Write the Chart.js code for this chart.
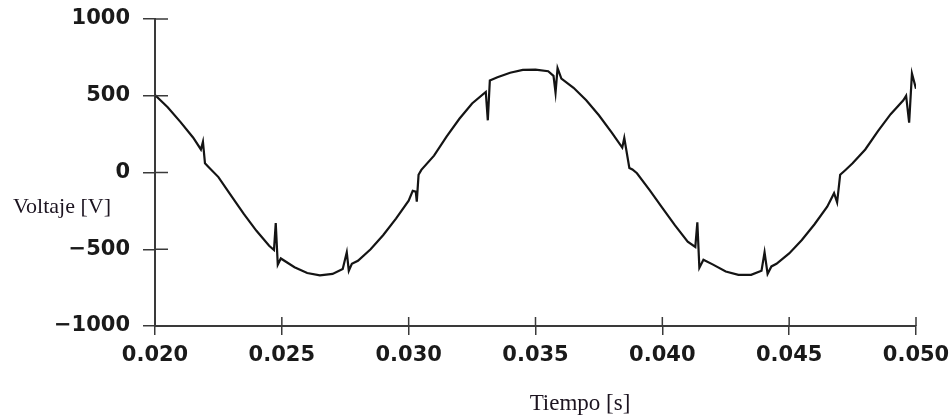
<!DOCTYPE html>
<html>
<head>
<meta charset="utf-8">
<script src="https://cdn.jsdelivr.net/npm/chart.js@4.4.1/dist/chart.umd.min.js"></script>
<style>
  html, body { margin: 0; padding: 0; background: #fff; }
  #wrap { width: 951px; height: 419px; }
</style>
</head>
<body>
<div id="wrap"><canvas id="chart" width="951" height="419"></canvas></div>
<script>
// waveform: time [s] and voltage [V]
const times = [
  0.0200, 0.0205, 0.0210, 0.0215, 0.02181, 0.02189, 0.02197, 0.0221,
  0.0225, 0.0230, 0.0235, 0.0240, 0.0245, 0.02469, 0.02476, 0.02484, 0.02496,
  0.0255, 0.0260, 0.0265, 0.0270, 0.0274, 0.02756, 0.02764, 0.02776,
  0.0280, 0.0285, 0.0290, 0.0295, 0.0300, 0.03016, 0.03028, 0.03032, 0.03039,
  0.0305, 0.0310, 0.0315, 0.0320, 0.0325, 0.03304, 0.03312, 0.03320,
  0.0335, 0.0340, 0.0345, 0.0350, 0.0355, 0.03571, 0.03579, 0.03587, 0.03602,
  0.0365, 0.0370, 0.0375, 0.0380, 0.03842, 0.0385, 0.03870, 0.03882,
  0.0390, 0.0395, 0.0400, 0.0405, 0.0410, 0.04130, 0.04138, 0.04146, 0.04162,
  0.0420, 0.0425, 0.0430, 0.0435, 0.04391, 0.04403, 0.04415, 0.04430,
  0.0445, 0.0450, 0.0455, 0.0460, 0.0465, 0.04677, 0.04689, 0.04701, 0.04721,
  0.0475, 0.0480, 0.0485, 0.0490, 0.0495, 0.04961, 0.04973, 0.04984, 0.0500
];
const volts = [
  505, 425, 330, 228, 150, 200, 60, 38,
  -30, -150, -270, -380, -477, -505, -330, -600, -560,
  -617, -655, -670, -661, -628, -520, -640, -595,
  -575, -500, -407, -300, -183, -120, -125, -190, -15,
  17, 110, 235, 350, 450, 525, 340, 600,
  620, 650, 668, 670, 660, 630, 520, 680, 612,
  552, 471, 373, 262, 162, 225, 30, 20,
  -5, -115, -230, -345, -450, -485, -325, -620, -568,
  -600, -645, -667, -667, -640, -520, -660, -612,
  -595, -527, -440, -337, -223, -135, -195, -15, 15,
  60, 150, 270, 380, 470, 500, 325, 645, 545
];

const xTicks = [0.020, 0.025, 0.030, 0.035, 0.040, 0.045, 0.050];
const yTicks = [-1000, -500, 0, 500, 1000];

const xTitle = 'Tiempo [s]';
const yTitle = 'Voltaje [V]';

const axisColor = '#3a3a3a';
const tickFont = { family: '"DejaVu Sans"', size: 21, weight: 'bold' };

// inner half of the crossing ticks + the two axis titles
const extras = {
  id: 'extras',
  afterDraw(chart) {
    const { ctx, chartArea, scales: { x, y } } = chart;
    ctx.save();
    ctx.strokeStyle = axisColor;
    ctx.lineWidth = 1.5;
    ctx.beginPath();
    xTicks.forEach(v => {
      const px = x.getPixelForValue(v);
      ctx.moveTo(px, chartArea.bottom);
      ctx.lineTo(px, chartArea.bottom - 9);
    });
    yTicks.forEach(v => {
      const py = y.getPixelForValue(v);
      ctx.moveTo(chartArea.left, py);
      ctx.lineTo(chartArea.left + 13, py);
    });
    ctx.stroke();

    ctx.fillStyle = '#1c1420';
    ctx.font = '22px "Liberation Serif"';
    ctx.textBaseline = 'middle';
    ctx.textAlign = 'left';
    ctx.fillText(yTitle, 13, 207);
    ctx.textAlign = 'center';
    ctx.font = '23px "Liberation Serif"';
    ctx.fillText(xTitle, 580, 404);
    ctx.restore();
  }
};

const chart = document.querySelector('#chart').getContext('2d');

new Chart(chart, {
  type: 'line',
  data: {
    datasets: [{
      data: times.map((t, i) => ({ x: t, y: volts[i] })),
      borderColor: '#141414',
      borderWidth: 2.2,
      pointRadius: 0,
      tension: 0,
      fill: false
    }]
  },
  options: {
    responsive: false,
    animation: false,
    events: [],
    layout: { padding: { top: 19, right: 35, left: 0, bottom: 0 } },
    plugins: {
      legend: { display: false },
      tooltip: { enabled: false }
    },
    scales: {
      x: {
        type: 'linear',
        min: 0.020,
        max: 0.050,
        afterBuildTicks: s => { s.ticks = xTicks.map(v => ({ value: v })); },
        afterFit: s => { s.height = 93; s.paddingLeft = 0; s.paddingRight = 0; },
        border: { display: true, color: axisColor, width: 2 },
        grid: { display: true, drawOnChartArea: false, drawTicks: true, tickLength: 9, color: axisColor, lineWidth: 1.5 },
        ticks: {
          color: '#1a1a1a',
          font: tickFont,
          padding: 8,
          maxRotation: 0,
          autoSkip: false,
          callback: v => v.toFixed(3)
        }
      },
      y: {
        min: -1000,
        max: 1000,
        afterBuildTicks: s => { s.ticks = yTicks.map(v => ({ value: v })); },
        afterFit: s => { s.width = 155; s.paddingTop = 0; s.paddingBottom = 0; },
        border: { display: true, color: axisColor, width: 2 },
        grid: { display: true, drawOnChartArea: false, drawTicks: true, tickLength: 12, color: axisColor, lineWidth: 1.5 },
        ticks: {
          color: '#1a1a1a',
          font: tickFont,
          padding: 13,
          autoSkip: false,
          callback: v => (v < 0 ? '\u2212' + Math.abs(v) : String(v))
        }
      }
    }
  },
  plugins: [extras]
});
</script>
</body>
</html>
